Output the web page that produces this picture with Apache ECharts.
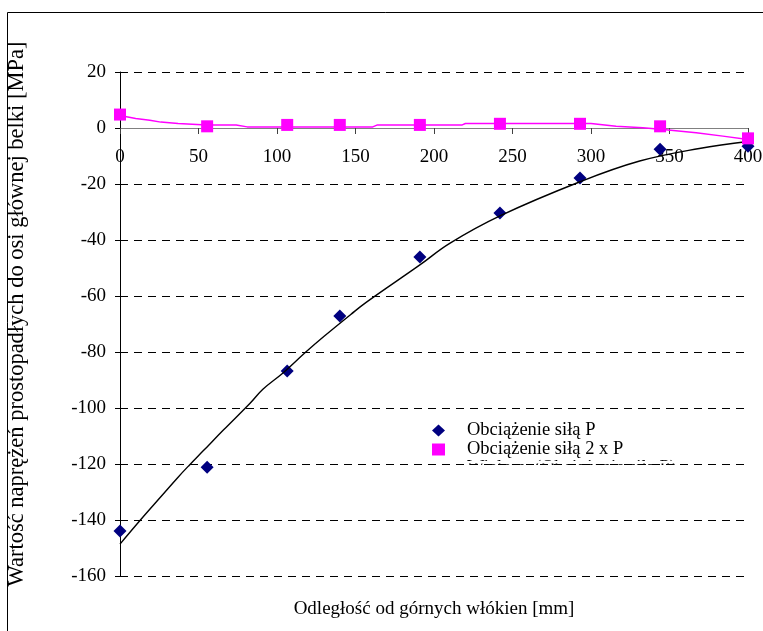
<!DOCTYPE html>
<html><head><meta charset="utf-8">
<script src="https://cdn.jsdelivr.net/npm/echarts@6/dist/echarts.min.js"></script>
<style>html,body{margin:0;padding:0;background:#fff}#c{width:763px;height:631px}</style>
</head><body><div id="c"></div>
<script>
// Data
const distX = [0, 55.5, 106.5, 140, 191, 242, 293, 344, 400];
const loadP = [-143.9, -121.2, -86.8, -67.1, -46.1, -30.4, -17.9, -7.6, -6.5];
const load2P = [4.8, 0.6, 1.1, 1.1, 1.1, 1.5, 1.5, 0.6, -3.7];

const trendPX = [0, 13, 26, 37, 44, 53, 66, 83, 91, 104, 118, 130, 147, 157, 191, 210, 242, 293, 331, 369, 400];
const trendPY = [-148.6, -140, -131.7, -124.7, -120.5, -115.3, -107.8, -98.2, -93.3, -87.4, -80.2, -74.4, -66.6, -62.2, -48.9, -41.2, -31.4, -19.2, -11.8, -7.3, -4.8];

const trend2PX = [0, 10, 19, 26, 37, 55, 74, 81, 161, 164, 218, 220, 300, 316, 333, 346, 367, 384, 400];
const trend2PY = [4.5, 3.4, 2.8, 2.1, 1.6, 1.1, 1.1, 0.4, 0.4, 1.1, 1.1, 1.6, 1.6, 0.6, 0.1, -0.5, -1.7, -2.9, -4.1];

const xMin = 0, xMax = 400, xStep = 50;
const yMin = -160, yMax = 20, yStep = 20;

const nameP = 'Obciążenie siłą P';
const name2P = 'Obciążenie siłą 2 x P';
const nameTrendP = 'Wielom. (Obciążenie siłą P)';
const nameTrend2P = 'Wielom. (Obciążenie siłą 2 x P)';
const xTitle = 'Odległość od górnych włókien [mm]';
const yTitle = 'Wartość naprężeń prostopadłych do osi głównej belki [MPa]';

const FONT = "'Liberation Serif', 'Times New Roman', serif";
const FS = 19;
const zip = (a, b) => a.map((v, i) => [v, b[i]]);

const chart = echarts.init(document.getElementById('c'), null, {renderer: 'canvas'});
chart.setOption({
  animation: false,
  backgroundColor: '#fff',
  textStyle: {fontFamily: FONT},
  grid: {left: 120, right: 15, top: 72, bottom: 55, containLabel: false, outerBoundsMode: 'none'},
  xAxis: {
    type: 'value', min: xMin, max: xMax, interval: xStep,
    position: 'bottom', offset: -448,
    name: xTitle, nameLocation: 'middle', nameGap: 472,
    nameTextStyle: {fontFamily: FONT, fontSize: FS, color: '#000'},
    axisLine: {onZero: false, lineStyle: {color: '#808080', width: 1}},
    axisTick: {show: true, inside: false, length: 6, lineStyle: {color: '#404040'}},
    axisLabel: {fontFamily: FONT, fontSize: FS, color: '#000', margin: 20},
    splitLine: {show: false}
  },
  yAxis: {
    type: 'value', min: yMin, max: yMax, interval: yStep,
    name: yTitle, nameLocation: 'middle', nameGap: 91, nameRotate: 90,
    nameTextStyle: {fontFamily: FONT, fontSize: 22.5, color: '#000', padding: [0, 0, 0, 20]},
    axisLine: {show: true, onZero: false, lineStyle: {color: '#000', width: 1}},
    axisTick: {show: true, inside: false, length: 5, lineStyle: {color: '#000'}},
    axisLabel: {fontFamily: FONT, fontSize: FS, color: '#000', margin: 14},
    splitLine: {show: true, lineStyle: {color: '#000', width: 1, type: [8, 6]}}
  },
  legend: {
    orient: 'vertical', left: 427, top: 416,
    itemWidth: 13, itemHeight: 12, itemGap: 0,
    textStyle: {fontFamily: FONT, fontSize: 18.5, color: '#000', lineHeight: 17.5, padding: [0, 0, 0, 17]},
    data: [
      {name: nameP, icon: 'diamond'},
      {name: name2P, icon: 'rect'},
      {name: nameTrendP, icon: 'rect', itemStyle: {opacity: 0}}
    ],
    selectedMode: false,
    z: 4
  },
  graphic: [
    {type: 'rect', z: 100, shape: {x: 400, y: 461, width: 320, height: 2.6}, style: {fill: '#fff'}},
    {type: 'rect', z: 100, shape: {x: 400, y: 465, width: 320, height: 15}, style: {fill: '#fff'}},
    {type: 'rect', z: 100, shape: {x: 7.5, y: 12.5, width: 800, height: 700}, style: {fill: 'none', stroke: '#000', lineWidth: 1}}
  ],
  series: [
    {
      name: nameP, type: 'scatter', data: zip(distX, loadP),
      symbol: 'diamond', symbolSize: 13, itemStyle: {color: '#000080', opacity: 1}, z: 2
    },
    {
      name: nameTrendP, type: 'line', data: zip(trendPX, trendPY),
      showSymbol: false, symbol: 'none', smooth: 0.4,
      lineStyle: {color: '#000', width: 1.4}, itemStyle: {color: '#000'}, z: 3
    },
    {
      name: nameTrend2P, type: 'line', data: zip(trend2PX, trend2PY),
      showSymbol: false, symbol: 'none',
      lineStyle: {color: '#FF00FF', width: 1.5}, itemStyle: {color: '#FF00FF'}, z: 4
    },
    {
      name: name2P, type: 'scatter', data: zip(distX, load2P),
      symbol: 'rect', symbolSize: 12, itemStyle: {color: '#FF00FF', opacity: 1}, z: 5
    }
  ]
});
</script>
</body></html>
